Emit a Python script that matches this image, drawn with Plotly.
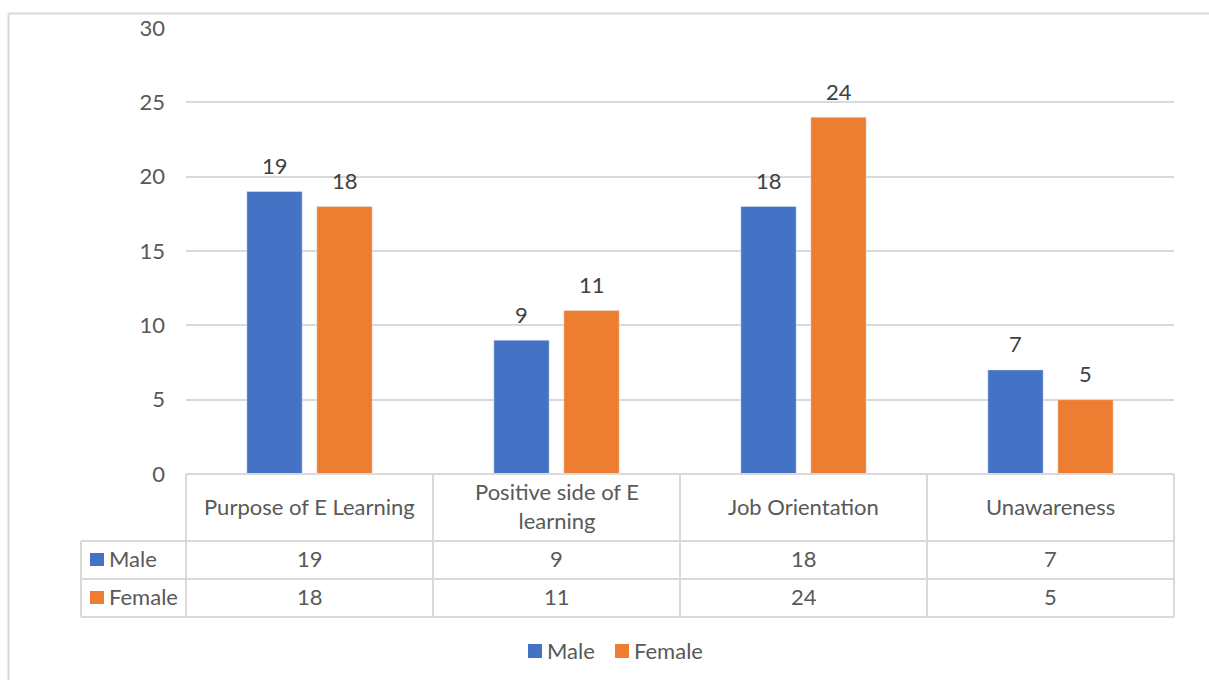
import plotly.graph_objects as go

# Survey results by gender
categories = ["Purpose of E Learning", "Positive side of E learning", "Job Orientation", "Unawareness"]
header_labels = ["Purpose of E Learning", "Positive side of E<br>learning", "Job Orientation", "Unawareness"]
male = [19, 9, 18, 7]
female = [18, 11, 24, 5]
series = [("Male", male, "#4472C4"), ("Female", female, "#ED7D31")]
y_ticks = [0, 5, 10, 15, 20, 25, 30]

FONT = "Lato"
FS = 22
TXT = "#595959"
GRID = "#d9d9d9"

W, H = 1209, 680
L, R, T, B = 186, 1174, 28, 474  # plot area in pixels


def px(x):
    return (x - L) / (R - L)


def py(y):
    return (B - y) / (B - T)


fig = go.Figure()
for name, vals, color in series:
    fig.add_trace(go.Bar(x=categories, y=vals, name=name, marker_color=color,
                         showlegend=False))

shapes = []
annotations = []
line = dict(color=GRID, width=2)

# value labels above each bar
for (name, vals, color), dx in zip(series, [-35, 35]):
    for k, v in enumerate(vals):
        annotations.append(dict(x=categories[k], y=v, xref="x", yref="y", text=str(v),
                                showarrow=False, xshift=dx, yshift=26, yanchor="middle",
                                font=dict(family=FONT, size=FS, color="#404040")))

# data table grid lines
row_y = [474, 541, 579, 617]
for i, yy in enumerate(row_y):
    x0 = L if i == 0 else 81
    shapes.append(dict(type="line", xref="paper", yref="paper", x0=px(x0), x1=1,
                       y0=py(yy), y1=py(yy), line=line))
shapes.append(dict(type="line", xref="paper", yref="paper", x0=px(81), x1=px(81),
                   y0=py(541), y1=py(617), line=line))
for xx in [0, 1]:
    shapes.append(dict(type="line", xref="paper", yref="paper", x0=xx, x1=xx,
                       y0=py(474), y1=py(617), line=line))
for k in range(len(categories) - 1):
    shapes.append(dict(type="line", xref="x", yref="paper", x0=k + 0.5, x1=k + 0.5,
                       y0=py(474), y1=py(617), line=line))
# outer chart frame
shapes.append(dict(type="line", xref="paper", yref="paper", x0=px(8.5), x1=px(W + 5),
                   y0=py(13.5), y1=py(13.5), line=line))
shapes.append(dict(type="line", xref="paper", yref="paper", x0=px(8.5), x1=px(8.5),
                   y0=py(13.5), y1=py(H + 5), line=line))

# table header (category names)
for k, lab in enumerate(header_labels):
    annotations.append(dict(x=categories[k], y=py(506), xref="x", yref="paper",
                            text=lab, showarrow=False, yanchor="middle",
                            font=dict(family=FONT, size=FS, color=TXT)))
# table rows: series key + values
for (name, vals, color), yy in zip(series, [558.5, 596.5]):
    shapes.append(dict(type="rect", xref="paper", yref="paper",
                       x0=px(90), x1=px(104), y0=py(yy - 5.5), y1=py(yy + 7.5),
                       fillcolor=color, line=dict(width=0)))
    annotations.append(dict(x=px(107), y=py(yy), xref="paper", yref="paper",
                            text=name, showarrow=False, xanchor="left", yanchor="middle",
                            font=dict(family=FONT, size=FS, color=TXT)))
    for k, v in enumerate(vals):
        annotations.append(dict(x=categories[k], y=py(yy), xref="x", yref="paper",
                                text=str(v), showarrow=False, yanchor="middle",
                                font=dict(family=FONT, size=FS, color=TXT)))

# legend below the table
for (name, vals, color), sx in zip(series, [528, 615]):
    shapes.append(dict(type="rect", xref="paper", yref="paper",
                       x0=px(sx), x1=px(sx + 14), y0=py(644), y1=py(658),
                       fillcolor=color, line=dict(width=0)))
    annotations.append(dict(x=px(sx + 17), y=py(650), xref="paper", yref="paper",
                            text=name, showarrow=False, xanchor="left", yanchor="middle",
                            font=dict(family=FONT, size=FS, color=TXT)))

fig.update_layout(
    width=W, height=H,
    margin=dict(l=L, r=W - R, t=T, b=H - B, pad=0),
    paper_bgcolor="white", plot_bgcolor="white",
    barmode="group", bargap=0.433, bargroupgap=0.21,
    font=dict(family=FONT, size=FS, color=TXT),
    showlegend=False,
    shapes=shapes, annotations=annotations,
    xaxis=dict(showticklabels=False, showgrid=False, zeroline=False, showline=False),
    yaxis=dict(range=[0, 30], tickvals=y_ticks, showgrid=True, gridcolor=GRID, gridwidth=2,
               zeroline=False, showline=False, ticklabelstandoff=20,
               tickfont=dict(family=FONT, size=FS, color=TXT)),
)

fig.write_html("out.html")
